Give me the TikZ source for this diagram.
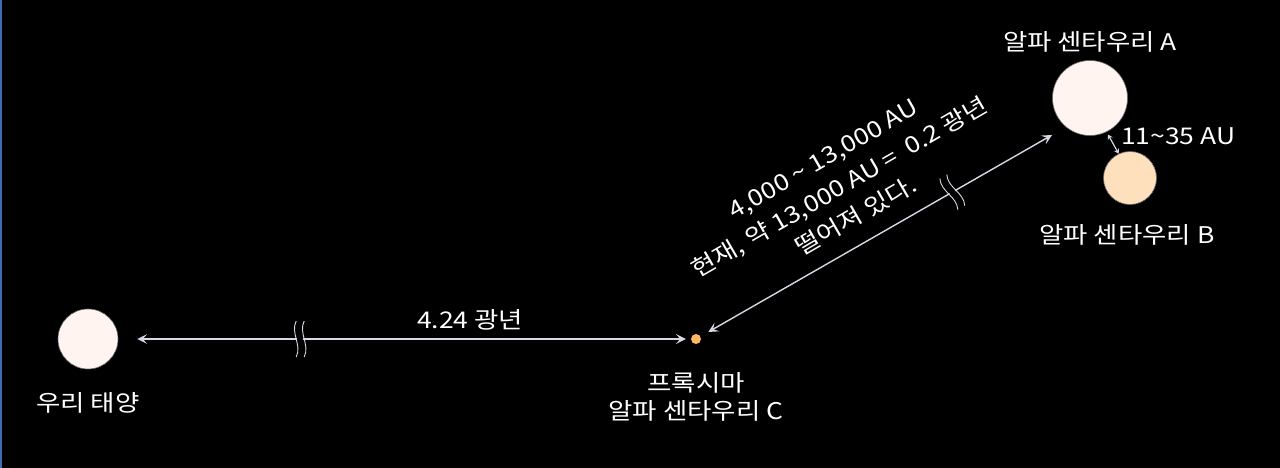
\documentclass[tikz,border=0pt]{standalone}
\usepackage{fontspec}
\setmainfont[FakeStretch=1.15]{Noto Sans CJK KR}
\usetikzlibrary{arrows.meta,calc}
\definecolor{arrowgray}{HTML}{D6D9E4}
\definecolor{sunfill}{HTML}{FFF4EF}
\definecolor{bfill}{HTML}{FFE0BC}
\definecolor{proxfill}{HTML}{FFB85E}
\definecolor{staredge}{HTML}{6A6A6A}
\definecolor{edgeblue}{HTML}{3E6DB0}
\begin{document}
\begin{tikzpicture}[x=1pt,y=-1pt,
  star/.style={circle, draw=staredge, line width=0.6pt, inner sep=0pt, minimum size=#1},
  lbl/.style={text=white, font=\fontsize{23}{28}\selectfont, align=center, inner sep=0pt},
  tipA/.tip={Stealth[length=10pt,width=10pt,inset=4.5pt]},
  conn/.style={draw=arrowgray, line width=1.6pt, tipA-tipA},
  small/.style={draw=arrowgray, line width=1.2pt, {Stealth[length=5pt,width=6pt,inset=2pt]}-{Stealth[length=5pt,width=6pt,inset=2pt]}},
  brk/.style={draw=arrowgray, line width=0.9pt},
  gap/.style={fill=black, inner sep=0pt, minimum width=6pt, minimum height=6pt}
]
\useasboundingbox (0,0) rectangle (1280,468);
\fill[black] (0,0) rectangle (1280,468);
\draw[edgeblue, line width=1.5pt] (0.75,0) -- (0.75,468);

% stars
\node[star=60pt, fill=sunfill] (sun) at (88,339) {};
\node[circle, fill=proxfill, inner sep=0pt, minimum size=10pt] (prox) at (696,339) {};
\node[star=75pt, fill=sunfill] (alphaA) at (1090,98) {};
\node[star=53pt, fill=bfill] (alphaB) at (1130,178) {};

% labels
\node[lbl] (lsun) at (88,403) {우리 태양};
\node[lbl] (lprox) at (696,397) {프록시마\\알파 센타우리 C};
\node[lbl] (lA) at (1090,42) {알파 센타우리 A};
\node[lbl] (lB) at (1127,235) {알파 센타우리 B};
\node[lbl] (ldist) at (470,320) {4.24 광년};
\node[lbl, anchor=west] (lab) at (1121,136) {11\textasciitilde 35 AU};
\node[lbl, rotate=30, font=\fontsize{23}{33}\selectfont] (lrot) at (840,188)
  {4,000 \textasciitilde\ 13,000 AU\\현재, 약 13,000 AU =\ \ 0.2 광년\\떨어져 있다.};

% connectors
\draw[conn, shorten <=19pt, shorten >=5pt] (sun) -- (prox);
\coordinate (aE) at (1052,135);
\draw[conn, line width=1.4pt, shorten <=9pt] (prox) -- (aE);
\draw[small, shorten <=3pt, shorten >=0pt] (alphaA.-64) -- (alphaB.115);

% break marks
\coordinate (brk1) at ($(sun)!0.349!(prox)$);
\node[gap] (g1) at (brk1) {};
\begin{scope}[shift={(brk1)}]
  \draw[brk] (-4,-18) .. controls (-10,-6) and (2,6) .. (-4,18);
  \draw[brk] (4,-18) .. controls (-2,-6) and (10,6) .. (4,18);
\end{scope}
\coordinate (brk2) at ($(prox)!0.72!(aE)$);
\node[gap, rotate=30] (g2) at (brk2) {};
\begin{scope}[shift={(brk2)}, rotate=30]
  \draw[brk] (-4,-18) .. controls (-10,-6) and (2,6) .. (-4,18);
  \draw[brk] (4,-18) .. controls (-2,-6) and (10,6) .. (4,18);
\end{scope}
\end{tikzpicture}
\end{document}
